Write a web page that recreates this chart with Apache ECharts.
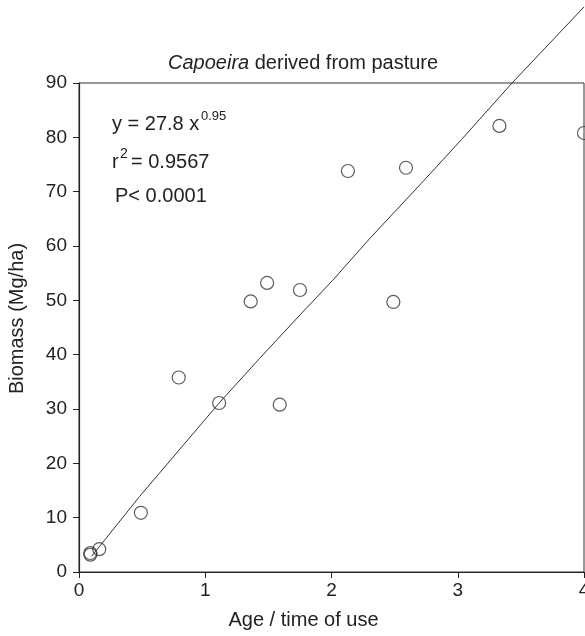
<!DOCTYPE html>
<html>
<head>
<meta charset="utf-8">
<script src="https://cdn.jsdelivr.net/npm/echarts@6/dist/echarts.min.js"></script>
<style>
  html, body { margin: 0; padding: 0; background: #fff; }
  #chart { width: 585px; height: 636px; }
</style>
</head>
<body>
<div id="chart"></div>
<script>
// observed points (age, biomass)
var ageObs = [0.09, 0.09, 0.16, 0.49, 0.79, 1.11, 1.36, 1.49, 1.59, 1.75, 2.13, 2.49, 2.59, 3.33, 4.0];
var biomassObs = [3.2, 3.5, 4.2, 10.9, 35.8, 31.1, 49.8, 53.2, 30.8, 51.9, 73.8, 49.7, 74.4, 82.1, 80.8];

// fitted curve
var ageFit = [0.1, 0.48, 1.11, 1.43, 1.75, 2.01, 2.3, 2.71, 3.03, 3.43, 4.0];
var biomassFit = [2.9, 13.9, 31.1, 39.3, 47.3, 53.7, 61.3, 71.5, 79.6, 90.0, 104.0];

var xTicks = [0, 1, 2, 3, 4];
var yTicks = [0, 10, 20, 30, 40, 50, 60, 70, 80, 90];

var font = 'Liberation Sans, Arial, sans-serif';
var ink = '#222';

var myChart = echarts.init(document.getElementById('chart'));

var option = {
    animation: false,
    backgroundColor: '#fff',
    title: {
        text: '{i|Capoeira} derived from pasture',
        left: 168,
        top: 53,
        padding: 0,
        textStyle: {
            fontFamily: font,
            fontSize: 20,
            fontWeight: 'normal',
            color: ink,
            rich: {
                i: { fontFamily: font, fontSize: 20, fontStyle: 'italic', color: ink }
            }
        }
    },
    grid: {
        left: 79,
        right: 1,
        top: 83,
        bottom: 64,
        outerBoundsMode: 'none',
        containLabel: false,
        show: true,
        borderColor: '#333',
        borderWidth: 1
    },
    xAxis: {
        type: 'value',
        min: xTicks[0],
        max: xTicks[xTicks.length - 1],
        interval: 1,
        name: 'Age / time of use',
        nameLocation: 'middle',
        nameGap: 38,
        nameTextStyle: { fontFamily: font, fontSize: 20, color: ink, padding: [0, 56, 0, 0] },
        splitLine: { show: false },
        axisLine: { lineStyle: { color: ink, width: 1.2 } },
        axisTick: { inside: false, length: 6, lineStyle: { color: ink } },
        axisLabel: { fontFamily: font, fontSize: 19, color: ink, margin: 9 }
    },
    yAxis: {
        type: 'value',
        min: yTicks[0],
        max: yTicks[yTicks.length - 1],
        interval: 10,
        name: 'Biomass (Mg/ha)',
        nameLocation: 'middle',
        nameGap: 52,
        nameRotate: 90,
        nameTextStyle: { fontFamily: font, fontSize: 20, color: ink, padding: [0, 0, 0, 18] },
        splitLine: { show: false },
        axisLine: { lineStyle: { color: ink, width: 1.2 } },
        axisTick: { inside: false, length: 6, lineStyle: { color: ink } },
        axisLabel: { fontFamily: font, fontSize: 19, color: ink, margin: 12 }
    },
    graphic: [
        { type: 'text', left: 112, top: 114, style: { text: 'y = 27.8 x', font: '20px ' + font, fill: ink } },
        { type: 'text', left: 201, top: 110, style: { text: '0.95', font: '13px ' + font, fill: ink } },
        { type: 'text', left: 112, top: 152, style: { text: 'r', font: '20px ' + font, fill: ink } },
        { type: 'text', left: 120, top: 147, style: { text: '2', font: '14px ' + font, fill: ink } },
        { type: 'text', left: 131, top: 152, style: { text: '= 0.9567', font: '20px ' + font, fill: ink } },
        { type: 'text', left: 115, top: 186, style: { text: 'P< 0.0001', font: '20px ' + font, fill: ink } }
    ],
    series: [
        {
            type: 'line',
            data: ageFit.map(function (x, i) { return [x, biomassFit[i]]; }),
            showSymbol: false,
            clip: false,
            lineStyle: { color: '#333', width: 1 },
            z: 2
        },
        {
            type: 'scatter',
            data: ageObs.map(function (x, i) { return [x, biomassObs[i]]; }),
            symbol: 'circle',
            symbolSize: 13,
            clip: false,
            itemStyle: { color: 'rgba(255,255,255,0)', borderColor: '#333', borderWidth: 1.2 },
            z: 3
        }
    ]
};
myChart.setOption(option);
</script>
</body>
</html>
